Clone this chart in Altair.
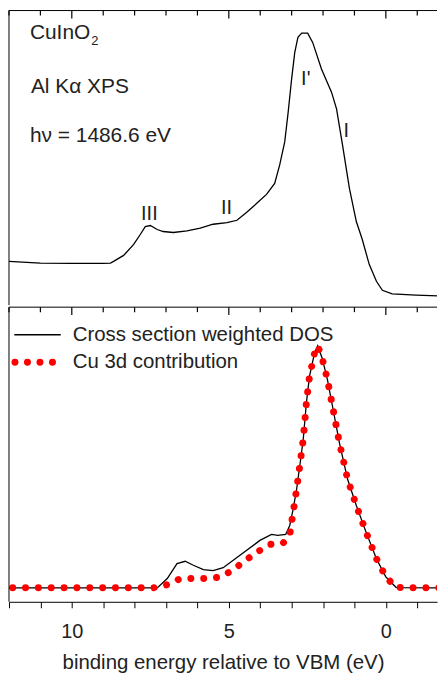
import altair as alt
import pandas as pd

# ---------------- data ----------------
# Top panel: Al Ka XPS spectrum (arbitrary units)
xps_energy = [12.0, 11.0, 10.0, 9.0, 8.77, 8.67, 8.35, 8.03, 7.82, 7.66, 7.5, 7.28, 7.09, 6.77,
              6.33, 5.91, 5.5, 5.06, 4.74, 4.43, 4.11, 3.8, 3.54, 3.38, 3.22, 3.11, 3.0, 2.9,
              2.8, 2.68, 2.49, 2.33, 2.05, 1.73, 1.57, 1.38, 1.16, 0.94, 0.75, 0.53, 0.3,
              0.11, -0.2, -0.96, -1.88]
xps_intensity = [44, 42.3, 42, 42, 42.3, 44, 50, 61, 71, 79, 80, 76, 74, 73,
                 74.7, 77.3, 81.3, 83, 85.3, 93.3, 102.3, 111.3, 122.3, 141, 164, 194, 227.3, 254,
                 269, 273.3, 273.3, 264, 237.3, 214, 197.3, 161, 117.3, 84, 66, 41, 24,
                 15, 11.3, 10, 9]

# Peak labels in the top panel
peak_labels = ["III", "II", "I'", "I"]
peak_energy = [7.53, 5.07, 2.55, 1.26]
peak_level = [86, 91.3, 221, 169]

# Bottom panel: cross-section weighted DOS
dos_energy = [12.0, 7.28, 6.96, 6.65, 6.39, 6.13, 5.81, 5.5, 5.18, 4.86, 4.43, 4.01, 3.64,
              3.44, 3.19, 3.06, 2.95, 2.84, 2.74, 2.63, 2.53, 2.43, 2.27, 2.17, 2.03, 1.86,
              1.7, 1.48, 1.22, 0.94, 0.63, 0.3, 0.0, -0.33, -1.88]
dos_total = [14, 14, 23.3, 38.3, 40.7, 36.7, 32.3, 31.3, 34.3, 41.7, 51.7, 61.7, 67.7,
             66.7, 67.7, 76.7, 93.3, 113.3, 136.7, 163.3, 200, 226.7, 250, 257.3, 245, 223.3,
             196.7, 160, 123.3, 96.7, 70, 43.3, 25, 14.3, 14]

# Cu 3d contribution
cu3d_energy = [12.0, 7.4, 6.94, 6.55, 6.15, 5.72, 5.32, 4.92, 4.51, 4.1, 3.67, 3.27, 3.06,
               2.98, 2.84, 2.74, 2.63, 2.53, 2.43, 2.27, 2.17, 2.03, 1.86, 1.7, 1.48, 1.22,
               0.94, 0.63, 0.3, 0.0, -0.33, -1.88]
cu3d_value = [14, 14, 17.3, 23.3, 23.5, 23.5, 24.5, 30.7, 40.7, 50, 57.7, 59, 67,
              84, 113.3, 136.7, 163.3, 200, 226.7, 250, 257.3, 245, 223.3, 196.7, 160, 123.3,
              96.7, 70, 43.3, 25, 14.3, 14]

tick_values = list(range(-1, 13))
series_names = ["Cross section weighted DOS", "Cu 3d contribution"]
header_texts = ["CuInO", "2", "Al K\u03b1 XPS", "h\u03bd = 1486.6 eV"]

# ---------------- layout / styling ----------------
FONT = "Liberation Sans"
TXT = "#222222"
PX_PER_EV = 31.55
W, H = 430, 296
TICK = 6
TICK_MAJOR, TICK_MINOR = 8, 5
E_LEFT, E_RIGHT = 12.0, 12.0 - W / PX_PER_EV
xscale = alt.Scale(domain=[E_LEFT, E_RIGHT], nice=False, zero=False)
yscale = alt.Scale(domain=[0, H], nice=False, zero=False)   # 1 unit = 1 px


def ex(px):   # panel pixel offset from the left edge -> energy
    return E_LEFT - px / PX_PER_EV


def ey(py):   # panel pixel offset from the top edge -> y value
    return H - py


xps_df = pd.DataFrame({"E": xps_energy, "V": xps_intensity, "k": range(len(xps_energy))})
dos_df = pd.DataFrame({"E": dos_energy, "V": dos_total, "k": range(len(dos_energy))})
cu_df = pd.DataFrame({"E": cu3d_energy, "V": cu3d_value, "k": range(len(cu3d_energy))})
pk_df = pd.DataFrame({"E": peak_energy, "V": peak_level, "t": peak_labels})
tk_df = pd.DataFrame({"E": tick_values, "V": [H] * len(tick_values),
                      "V2": [H - (TICK_MAJOR if t % 5 == 0 else TICK_MINOR)
                             for t in tick_values]})
hdr_df = pd.DataFrame({"t": header_texts,
                       "E": [ex(p) for p in [21, 82.7, 22, 21]],
                       "V": [ey(p) for p in [28.7, 34.3, 83, 132]],
                       "fs": [21, 13, 21, 21]})
legtxt_df = pd.DataFrame({"t": series_names, "E": [ex(64), ex(64)],
                          "V": [ey(34.3), ey(61)]})
legline_df = pd.DataFrame({"E": [ex(5.3)], "E2": [ex(52)], "V": [ey(27.7)]})
legdot_df = pd.DataFrame({"E": [ex(6)], "E2": [ex(44)], "V": [ey(55.3)]})
frame_h_df = pd.DataFrame({"E": [E_LEFT], "E2": [E_RIGHT], "V": [H]})
frame_v_df = pd.DataFrame({"E": [E_LEFT], "V": [0], "V2": [H]})


def X(ax, field="E"):
    return alt.X(f"{field}:Q", scale=xscale, axis=ax)


def Y(field="V"):
    return alt.Y(f"{field}:Q", scale=yscale, axis=None)


def panel_common(ax):
    ticks = alt.Chart(tk_df).mark_rule(color="black", strokeWidth=1.2).encode(
        x=X(ax), y=Y(), y2="V2:Q")
    fh = alt.Chart(frame_h_df).mark_rule(color="black", strokeWidth=1).encode(
        x=X(ax), x2="E2:Q", y=Y())
    fv = alt.Chart(frame_v_df).mark_rule(color="black", strokeWidth=1).encode(
        x=X(ax), y=Y(), y2="V2:Q")
    return [ticks, fh, fv]


# ---------------- top panel ----------------
xps_line = alt.Chart(xps_df).mark_line(color="black", strokeWidth=1.3, clip=True).encode(
    x=X(None), y=Y(), order="k:Q")

peak_text = alt.Chart(pk_df).mark_text(font=FONT, fontSize=20, color=TXT, align="center",
                                        baseline="alphabetic").encode(
    x=X(None), y=Y(), text="t:N")

hdr_text = alt.Chart(hdr_df).mark_text(font=FONT, color=TXT, align="left",
                                       baseline="alphabetic").encode(
    x=X(None), y=Y(), size=alt.Size("fs:Q", scale=None, legend=None), text="t:N")

top = alt.layer(xps_line, peak_text, hdr_text, *panel_common(None)).properties(
    width=W, height=H)

# ---------------- bottom panel ----------------
xaxis = alt.Axis(orient="bottom", values=tick_values,
                 labelExpr="datum.value % 5 == 0 ? datum.label : ''",
                 tickSize=TICK, tickColor="black", domainColor="black", grid=False,
                 labelFont=FONT, labelFontSize=20, labelColor=TXT, labelPadding=14,
                 labelFlush=False,
                 title="binding energy relative to VBM (eV)", titleFont=FONT,
                 titleFontSize=20.5, titleFontWeight="normal", titleColor=TXT,
                 titlePadding=11)

dos_line = alt.Chart(dos_df).mark_line(color="black", strokeWidth=1.3, clip=True).encode(
    x=X(xaxis), y=Y(), order="k:Q")

cu_line = alt.Chart(cu_df).mark_line(color="#ff0000", strokeWidth=7, strokeCap="round",
                                     strokeDash=[0.01, 12.9], strokeDashOffset=9.2,
                                     clip=True).encode(
    x=X(xaxis), y=Y(), order="k:Q")

leg_line = alt.Chart(legline_df).mark_rule(color="black", strokeWidth=1.3).encode(
    x=X(xaxis), x2="E2:Q", y=Y())
leg_dots = alt.Chart(legdot_df).mark_rule(
    color="#ff0000", strokeWidth=7, strokeCap="round", strokeDash=[0.01, 12.55]).encode(
    x=X(xaxis), x2="E2:Q", y=Y())
leg_text = alt.Chart(legtxt_df).mark_text(font=FONT, fontSize=20.5, color=TXT, align="left",
                                          baseline="alphabetic").encode(
    x=X(xaxis), y=Y(), text="t:N")

bottom = alt.layer(dos_line, cu_line, leg_line, leg_dots, leg_text,
                   *panel_common(xaxis)).properties(width=W, height=H)

chart = alt.vconcat(top, bottom, spacing=0).properties(padding=0).configure_view(
    strokeWidth=0, stroke=None)

chart.save("out.html", embed_options={"renderer": "svg", "actions": False})
